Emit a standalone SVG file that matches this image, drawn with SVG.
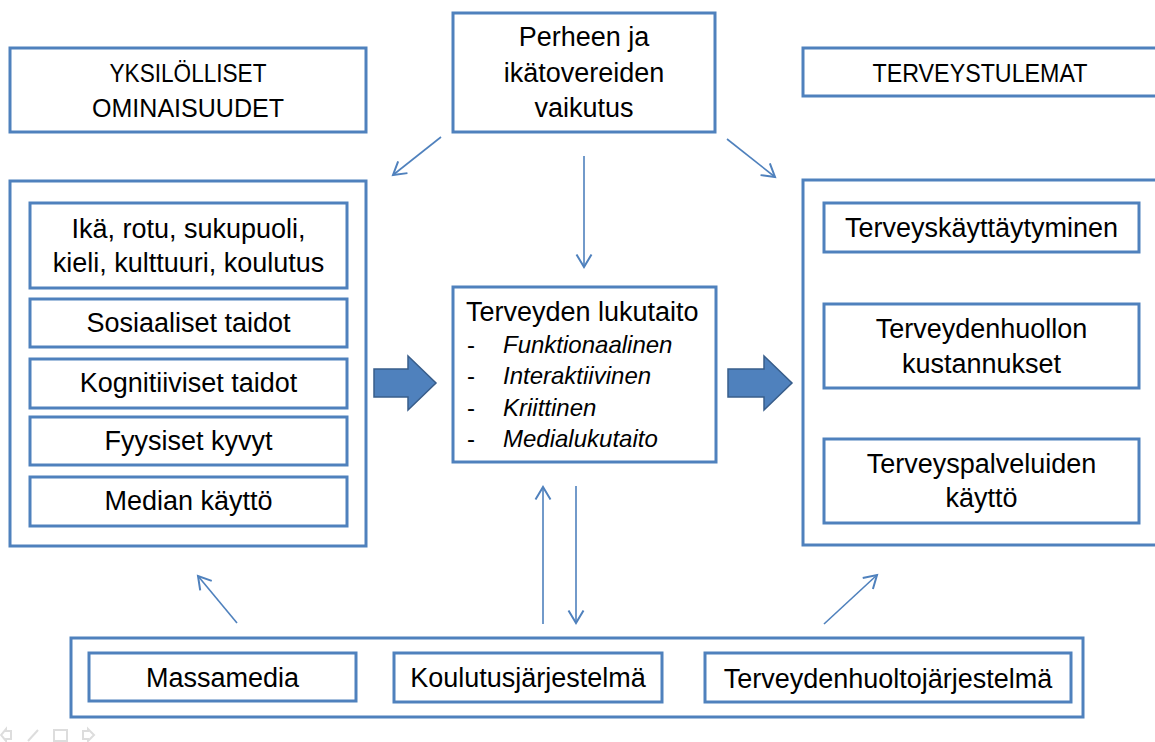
<svg xmlns="http://www.w3.org/2000/svg" width="1155" height="742" viewBox="0 0 1155 742">
<style>
.box{fill:#fff;stroke:#4F81BD;stroke-width:3}
.t{font-family:"Liberation Sans",Arial,sans-serif;font-size:27px;fill:#000}
.c{text-anchor:middle}
.cap{font-size:26px}
.li{font-size:24px}
.it{font-style:italic}
.conn{stroke:#4F81BD;stroke-width:1.6;fill:none}
.big{fill:#4F81BD;stroke:#385D8A;stroke-width:1.5}
.nav{fill:none;stroke:#DDDDDD;stroke-width:2}
</style>
<defs>
<marker id="ah" markerUnits="userSpaceOnUse" markerWidth="20" markerHeight="20" viewBox="-12 -8 14 16" refX="0" refY="0" orient="auto">
<path d="M-10,-6 L0,0 L-10,6" fill="none" stroke="#4F81BD" stroke-width="1.6"/>
</marker>
</defs>
<rect width="1155" height="742" fill="#fff"/>

<g id="yksilolliset-title">
<rect class="box" x="10" y="48" width="356" height="84"/>
<text class="t c cap" x="188" y="82" textLength="157" lengthAdjust="spacingAndGlyphs">YKSILÖLLISET</text>
<text class="t c cap" x="188" y="117" textLength="192" lengthAdjust="spacingAndGlyphs">OMINAISUUDET</text>
</g>

<g id="perhe">
<rect class="box" x="453" y="13" width="262" height="119"/>
<text class="t c" x="584" y="46">Perheen ja</text>
<text class="t c" x="584" y="82">ikätovereiden</text>
<text class="t c" x="584" y="117">vaikutus</text>
</g>

<g id="terveystulemat-title">
<rect class="box" x="803" y="48" width="360" height="48"/>
<text class="t c cap" x="980" y="82" textLength="215" lengthAdjust="spacingAndGlyphs">TERVEYSTULEMAT</text>
</g>

<g id="yksilolliset">
<rect class="box" x="10" y="181" width="356" height="365"/>
<g id="ika">
<rect class="box" x="30" y="203" width="317" height="85"/>
<text class="t c" x="188.5" y="238">Ikä, rotu, sukupuoli,</text>
<text class="t c" x="188.5" y="272">kieli, kulttuuri, koulutus</text>
</g>
<g id="sosiaaliset">
<rect class="box" x="30" y="299" width="317" height="48"/>
<text class="t c" x="188.5" y="332">Sosiaaliset taidot</text>
</g>
<g id="kognitiiviset">
<rect class="box" x="30" y="359" width="317" height="49"/>
<text class="t c" x="188.5" y="392">Kognitiiviset taidot</text>
</g>
<g id="fyysiset">
<rect class="box" x="30" y="417" width="317" height="48"/>
<text class="t c" x="188.5" y="450">Fyysiset kyvyt</text>
</g>
<g id="median">
<rect class="box" x="30" y="477" width="317" height="49"/>
<text class="t c" x="188.5" y="510">Median käyttö</text>
</g>
</g>

<g id="lukutaito">
<rect class="box" x="453" y="287" width="263" height="175"/>
<text class="t" x="466" y="321">Terveyden lukutaito</text>
<text class="t li" x="467" y="353">-</text>
<text class="t li it" x="503" y="353">Funktionaalinen</text>
<text class="t li" x="467" y="384">-</text>
<text class="t li it" x="503" y="384">Interaktiivinen</text>
<text class="t li" x="467" y="416">-</text>
<text class="t li it" x="503" y="416">Kriittinen</text>
<text class="t li" x="467" y="447">-</text>
<text class="t li it" x="503" y="447">Medialukutaito</text>
</g>

<g id="terveystulemat">
<rect class="box" x="803" y="180" width="360" height="365"/>
<g id="kayttaytyminen">
<rect class="box" x="824" y="203" width="315" height="49"/>
<text class="t c" x="981.5" y="237">Terveyskäyttäytyminen</text>
</g>
<g id="kustannukset">
<rect class="box" x="824" y="304" width="315" height="84"/>
<text class="t c" x="981.5" y="338">Terveydenhuollon</text>
<text class="t c" x="981.5" y="373">kustannukset</text>
</g>
<g id="palvelut">
<rect class="box" x="824" y="439" width="315" height="84"/>
<text class="t c" x="981.5" y="473">Terveyspalveluiden</text>
<text class="t c" x="981.5" y="507">käyttö</text>
</g>
</g>

<g id="jarjestelmat">
<rect class="box" x="71" y="638" width="1012" height="79"/>
<g id="massamedia">
<rect class="box" x="89" y="653" width="267" height="48"/>
<text class="t c" x="222.5" y="687">Massamedia</text>
</g>
<g id="koulutus">
<rect class="box" x="394" y="653" width="268" height="49"/>
<text class="t c" x="528" y="687">Koulutusjärjestelmä</text>
</g>
<g id="terveydenhuolto">
<rect class="box" x="705" y="653" width="366" height="49"/>
<text class="t c" x="888" y="688">Terveydenhuoltojärjestelmä</text>
</g>
</g>

<g id="connectors">
<polygon class="big" points="374,369 408,369 408,356 436,383 408,410 408,397 374,397"/>
<polygon class="big" points="728,369 764,369 764,356 792,383 764,410 764,397 728,397"/>
<line class="conn" x1="441" y1="137" x2="393" y2="175" marker-end="url(#ah)"/>
<line class="conn" x1="584" y1="156" x2="584" y2="267" marker-end="url(#ah)"/>
<line class="conn" x1="727" y1="139" x2="775" y2="177" marker-end="url(#ah)"/>
<line class="conn" x1="543" y1="624" x2="543" y2="487" marker-end="url(#ah)"/>
<line class="conn" x1="576" y1="486" x2="576" y2="623" marker-end="url(#ah)"/>
<line class="conn" x1="237" y1="623" x2="198" y2="576" marker-end="url(#ah)"/>
<line class="conn" x1="824" y1="624" x2="877" y2="575" marker-end="url(#ah)"/>
</g>

<g id="nav">
<path class="nav" d="M11,731 L6,731 L6,729 L1,735 L6,741 L6,739 L11,739 Z"/>
<path class="nav" d="M28,741 L38,730"/>
<rect class="nav" x="54" y="730" width="13" height="11"/>
<path class="nav" d="M83,731 L88,731 L88,729 L94,735 L88,741 L88,739 L83,739 Z"/>
</g>
</svg>
